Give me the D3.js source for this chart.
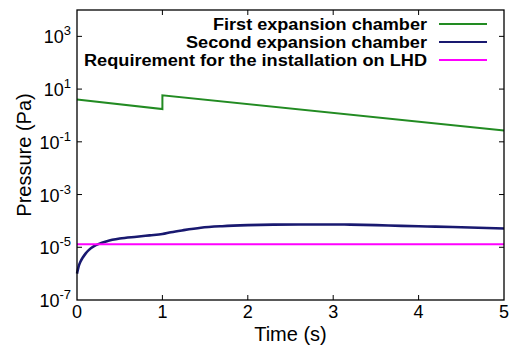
<!DOCTYPE html>
<html><head><meta charset="utf-8">
<script src="https://cdn.jsdelivr.net/npm/d3@7"></script>
<style>body{margin:0;background:#fff}text{font-family:"Liberation Sans",Arial,sans-serif}</style>
</head><body><svg id="c" width="510" height="345"></svg>
<script>
const seriesNames = ["First expansion chamber","Second expansion chamber","Requirement for the installation on LHD"];
const seriesColors = ["#228b22","#191970","#ff00ff"];
const firstT = [0, 1, 1, 5];
const firstP = [4.0, 1.75, 5.8, 0.27];
const secondT = [0, 0.01, 0.02, 0.04, 0.07, 0.1, 0.14, 0.2, 0.25, 0.35, 0.5, 0.7, 0.85, 1.0, 1.1, 1.25, 1.45, 1.7, 2.0, 2.3, 2.6, 3.0, 3.2, 3.5, 3.8, 4.1, 4.4, 4.7, 5.0];
const secondLogP = [-6.0, -5.85, -5.72, -5.55, -5.38, -5.24, -5.10, -4.96, -4.88, -4.77, -4.67, -4.6, -4.55, -4.5, -4.43, -4.35, -4.26, -4.2, -4.16, -4.14, -4.135, -4.135, -4.14, -4.16, -4.19, -4.21, -4.23, -4.26, -4.29];
const reqP = 1.3e-5;
const xTicks = [0,1,2,3,4,5];
const yTickExp = [-7,-5,-3,-1,1,3];
const legendTextWidths = [214, 241, 343];

const svg = d3.select("#c");
const L=77, R=504, T=10, B=300;
const x = d3.scaleLinear().domain([0,5]).range([L,R]);
const y = d3.scaleLog().domain([1e-7,1e4]).range([B,T]);

const line = d3.line().x(d=>x(d[0])).y(d=>y(d[1]));
svg.append("path").datum(firstT.map((t,i)=>[t,firstP[i]])).attr("d",line)
  .attr("fill","none").attr("stroke",seriesColors[0]).attr("stroke-width",2);
svg.append("path").datum(secondT.map((t,i)=>[t,Math.pow(10,secondLogP[i])])).attr("d",d3.line().x(d=>x(d[0])).y(d=>y(d[1])).curve(d3.curveMonotoneX))
  .attr("fill","none").attr("stroke",seriesColors[1]).attr("stroke-width",2.6);
svg.append("path").datum([[0,reqP],[5,reqP]]).attr("d",line)
  .attr("fill","none").attr("stroke",seriesColors[2]).attr("stroke-width",2);

svg.append("rect").attr("x",L).attr("y",T).attr("width",R-L).attr("height",B-T)
  .attr("fill","none").attr("stroke","#000").attr("stroke-width",1.3);

const tk=5;
xTicks.forEach(v=>{
  if(v>0 && v<5){
    svg.append("line").attr("x1",x(v)).attr("x2",x(v)).attr("y1",B).attr("y2",B-tk).attr("stroke","#000");
    svg.append("line").attr("x1",x(v)).attr("x2",x(v)).attr("y1",T).attr("y2",T+tk).attr("stroke","#000");
  }
  svg.append("text").attr("x",x(v)).attr("y",318).attr("text-anchor","middle")
    .attr("font-size",18).text(v);
});
yTickExp.forEach(e=>{
  const yy=y(Math.pow(10,e));
  if(e>-7){
    svg.append("line").attr("x1",L).attr("x2",L+tk).attr("y1",yy).attr("y2",yy).attr("stroke","#000");
    svg.append("line").attr("x1",R).attr("x2",R-tk).attr("y1",yy).attr("y2",yy).attr("stroke","#000");
  }
  const t=svg.append("text").attr("x",71).attr("y",yy+7).attr("text-anchor","end").attr("font-size",18);
  t.append("tspan").text("10");
  t.append("tspan").attr("dy",-8).attr("font-size",13).text(e);
});

svg.append("text").attr("x",x(2.5)).attr("y",341).attr("text-anchor","middle").attr("font-size",20).text("Time (s)");
svg.append("text").attr("transform",`translate(31,${(T+B)/2}) rotate(-90)`).attr("text-anchor","middle")
  .attr("font-size",20).text("Pressure (Pa)");

seriesNames.forEach((n,i)=>{
  const ly=24+i*18;
  svg.append("text").attr("x",427).attr("y",ly+5.5).attr("text-anchor","end")
    .attr("font-size",16).attr("font-weight","bold")
    .attr("textLength",legendTextWidths[i]).attr("lengthAdjust","spacingAndGlyphs").text(n);
  svg.append("line").attr("x1",439).attr("x2",487).attr("y1",ly).attr("y2",ly)
    .attr("stroke",seriesColors[i]).attr("stroke-width",2);
});
</script></body></html>
